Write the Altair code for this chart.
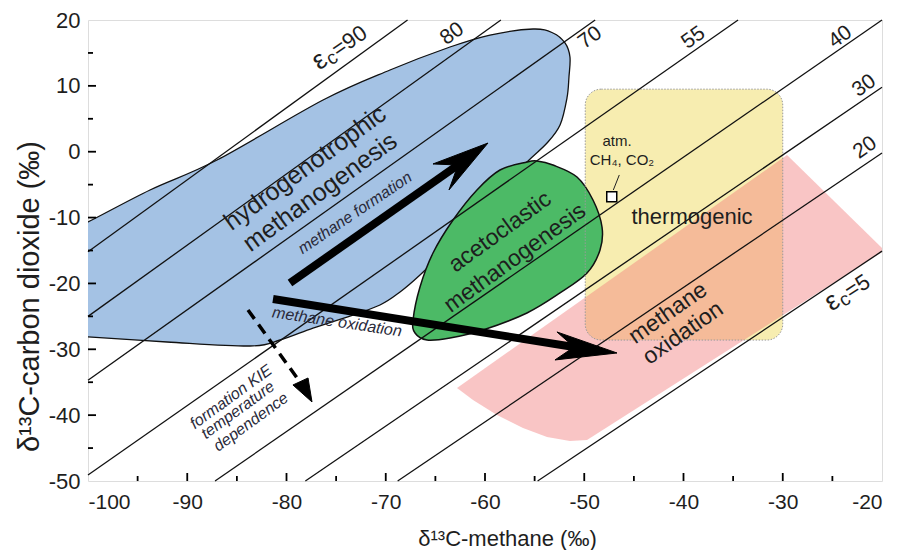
import altair as alt
import pandas as pd

FONT = "Liberation Sans"
TXT = "#1e1e1e"

# ---- iso-fractionation lines (epsilon_c), endpoints ----
eps_names = ["90", "80", "70", "55", "40", "30", "20", "5"]
line_x1 = [-100, -100, -100, -100, -87.2, -78.1, -68.8, -54.7]
line_y1 = [-15.2, -25.0, -34.7, -49.1, -50, -50, -50, -50]
line_x2 = [-67.8, -58.4, -48.9, -34.5, -20, -20, -20, -20]
line_y2 = [20, 20, 20, 20, 20.0, 9.8, -0.2, -15.1]

# plain number labels (centre positions)
num_text = ["80", "70", "55", "40", "30", "20"]
num_x = [-63.3, -49.4, -39.0, -24.2, -21.8, -21.7]
num_y = [17.9, 17.3, 17.3, 17.4, 10.0, 0.6]
num_ang = [324, 324, 324, 324, 324, 325]

# "εc=" labels (start of baseline)
epsl_val = ["=90", "=5"]
epsl_x = [-76.7, -25.1]
epsl_y = [12.3, -24.3]
epsl_ang = [325, 327]

# ---- regions ----
blue_x = [-104, -100, -93.75, -87.0, -76.32, -69.57, -63.53, -59.5, -55.16, -53.15, -51.94,
          -51.44, -51.54, -51.74, -52.44, -53.75, -55.77, -59.5, -62.52, -64.53, -66.55,
          -68.56, -70.58, -73.9, -77.33, -80.65, -83.68, -92.04, -100, -104]
blue_y = [-13.5, -10.67, -5.81, -1.26, 7.85, 12.41, 15.9, 17.72, 18.63, 18.03, 16.51,
          14.38, 11.35, 8.16, 4.06, 1.32, -1.56, -7.33, -11.89, -15.68, -18.72,
          -21.3, -23.27, -25.1, -26.77, -28.59, -29.5, -28.89, -28.13, -27.8]

green_x = [-55.77, -58.49, -60.81, -63.22, -65.24, -66.55, -67.25, -67.05, -65.84, -63.53,
           -60.2, -55.77, -52.44, -49.72, -48.41, -48.21, -49.12, -50.73, -53.15, -54.76]
green_y = [-1.56, -2.78, -5.81, -10.37, -15.38, -20.54, -25.55, -27.53, -28.59, -28.28,
           -27.07, -24.49, -21.45, -18.42, -14.92, -11.43, -7.33, -3.84, -2.02, -1.41]

pink_x = [-62.82, -61.21, -58.79, -56.17, -53.75, -51.44, -49.72, -20.0, -20.0, -29.57]
pink_y = [-35.88, -37.70, -39.98, -41.95, -43.32, -43.92, -43.77, -15.23, -14.62, -0.50]

thermo_x = [-49.9, -30.0]
thermo_y = [9.5, -28.6]

# ---- arrows ----
arrow_x1 = [-79.65, -81.36]
arrow_y1 = [-19.93, -22.36]
arrow_x2 = [-62.72, -51.03]
arrow_y2 = [-2.02, -29.65]
head1_x = [-59.70, -65.24, -62.72, -63.63]
head1_y = [1.32, -1.86, -2.02, -5.81]
head2_x = [-46.70, -52.75, -51.03, -52.95]
head2_y = [-30.56, -27.37, -29.65, -31.62]
dash_x = [-83.88, -78.64]
dash_y = [-24.03, -34.97]
head3_x = [-77.43, -77.83, -79.35]
head3_y = [-38.0, -34.36, -35.42]

# ---- atmospheric point ----
atm_x = [-47.23]
atm_y = [-6.83]
conn_x = [-47.07, -46.47]
conn_y = [-5.81, -3.53]

# ---- labels ----
big_text = ["hydrogenotrophic", "methanogenesis", "acetoclastic", "methanogenesis",
            "thermogenic", "methane", "oxidation"]
big_x = [-78.14, -76.62, -58.49, -56.98, -39.14, -41.56, -40.05]
big_y = [-2.47, -6.12, -12.19, -16.14, -9.91, -24.49, -27.53]
big_ang = [324, 324, 324, 324, 0, 325, 325]
big_size = [25, 25, 23, 23, 22, 23, 23]

it_text = ["methane formation", "methane oxidation", "formation KIE", "temperature", "dependence"]
it_x = [-73.1, -74.91, -85.59, -84.89, -83.58]
it_y = [-9.3, -25.85, -37.24, -39.22, -41.04]
it_ang = [326, 8.5, 324, 324, 324]

small_text = ["atm.", "CH₄, CO₂"]
small_x = [-46.7, -46.2]
small_y = [1.63, -1.26]

x_ticks = [-100, -90, -80, -70, -60, -50, -40, -30, -20]
x_minor = [-95, -85, -75, -65, -55, -45, -35, -25]
y_ticks = [-50, -40, -30, -20, -10, 0, 10, 20]
y_minor = [-45, -35, -25, -15, -5, 5, 15]

W, H = 794, 461

xs = alt.Scale(domain=[-100, -20], nice=False, zero=False)
ys = alt.Scale(domain=[-50, 20], nice=False, zero=False)
xax = alt.Axis(values=x_ticks, tickSize=0, domain=False, grid=False, labelFontSize=21,
               labelFont=FONT, labelColor=TXT, labelPadding=10, labelExpr="'' + datum.value",
               title="δ¹³C-methane (‰)", titleFont=FONT, titleFontSize=22,
               titleFontWeight="normal", titleColor=TXT, titleX=419, titleY=57,
               titleBaseline="middle", titleAlign="center")
yax = alt.Axis(values=y_ticks, tickSize=0, domain=False, grid=False, labelFontSize=22,
               labelFont=FONT, labelColor=TXT, labelPadding=8, labelExpr="'' + datum.value",
               title="δ¹³C-carbon dioxide (‰)", titleFont=FONT, titleFontSize=29,
               titleFontWeight="normal", titleColor=TXT, titleX=-59, titleY=276,
               titleBaseline="middle", titleAlign="center", titleAngle=270)


def X(f):
    return alt.X(f, type="quantitative", scale=xs, axis=xax)


def Y(f):
    return alt.Y(f, type="quantitative", scale=ys, axis=yax)


def poly(px, py, **mk):
    df = pd.DataFrame({"x": px, "y": py, "i": list(range(len(px)))})
    return alt.Chart(df).mark_line(clip=True, **mk).encode(x=X("x"), y=Y("y"), order="i:Q")


thermo_df = pd.DataFrame({"x": [thermo_x[0]], "x2": [thermo_x[1]], "y": [thermo_y[0]], "y2": [thermo_y[1]]})
thermo_fill = alt.Chart(thermo_df).mark_rect(fill="#f7edb0", cornerRadius=16).encode(
    x=X("x"), x2="x2", y=Y("y"), y2="y2")
thermo_border = alt.Chart(thermo_df).mark_rect(fillOpacity=0, stroke="#9a9a9a", strokeWidth=1,
                                               strokeDash=[1.5, 1.5], cornerRadius=16).encode(
    x=X("x"), x2="x2", y=Y("y"), y2="y2")

blue = poly(blue_x, blue_y, fill="#a4c2e4", stroke="#111", strokeWidth=1.3, interpolate="cardinal-closed")
green = poly(green_x, green_y, fill="#4cba66", stroke="#111", strokeWidth=1.5, interpolate="cardinal-closed")
pink = poly(pink_x, pink_y, fill="#f27e7e", fillOpacity=0.45, strokeWidth=0,
            interpolate="linear-closed")

lines_df = pd.DataFrame({"eps": eps_names, "x1": line_x1, "y1": line_y1, "x2": line_x2, "y2": line_y2})
iso = alt.Chart(lines_df).mark_rule(color="#111", strokeWidth=1.3).encode(
    x=X("x1"), y=Y("y1"), x2="x2", y2="y2")

arr_df = pd.DataFrame({"x1": arrow_x1, "y1": arrow_y1, "x2": arrow_x2, "y2": arrow_y2})
shafts = alt.Chart(arr_df).mark_rule(color="black", strokeWidth=8).encode(
    x=X("x1"), y=Y("y1"), x2="x2", y2="y2")
head1 = poly(head1_x, head1_y, fill="black", stroke="black", strokeWidth=1, interpolate="linear-closed")
head2 = poly(head2_x, head2_y, fill="black", stroke="black", strokeWidth=1, interpolate="linear-closed")
dash_df = pd.DataFrame({"x1": [dash_x[0]], "y1": [dash_y[0]], "x2": [dash_x[1]], "y2": [dash_y[1]]})
dash = alt.Chart(dash_df).mark_rule(color="black", strokeWidth=3.5, strokeDash=[11, 7]).encode(
    x=X("x1"), y=Y("y1"), x2="x2", y2="y2")
head3 = poly(head3_x, head3_y, fill="black", stroke="black", strokeWidth=1, interpolate="linear-closed")

atm_pt = alt.Chart(pd.DataFrame({"x": atm_x, "y": atm_y})).mark_point(
    shape="square", size=100, filled=True, fill="white", stroke="black", strokeWidth=1.5, opacity=1
).encode(x=X("x"), y=Y("y"))
conn_df = pd.DataFrame({"x1": [conn_x[0]], "y1": [conn_y[0]], "x2": [conn_x[1]], "y2": [conn_y[1]]})
conn = alt.Chart(conn_df).mark_rule(color="#222", strokeWidth=1).encode(
    x=X("x1"), y=Y("y1"), x2="x2", y2="y2")

num_df = pd.DataFrame({"t": num_text, "x": num_x, "y": num_y, "a": num_ang})
num_lab = alt.Chart(num_df).mark_text(font=FONT, fontSize=21, color=TXT, align="center",
                                      baseline="middle").encode(
    x=X("x"), y=Y("y"), text="t:N", angle=alt.Angle("a:Q", scale=None))

epsl_df = pd.DataFrame({"v": epsl_val, "e": ["ε", "ε"], "c": ["c", "c"],
                        "x": epsl_x, "y": epsl_y, "a": epsl_ang})
eps_e = alt.Chart(epsl_df).mark_text(font=FONT, fontSize=27, color=TXT, align="left",
                                     baseline="alphabetic").encode(
    x=X("x"), y=Y("y"), text="e:N", angle=alt.Angle("a:Q", scale=None))
eps_c = alt.Chart(epsl_df).mark_text(font=FONT, fontSize=19, color=TXT, align="left",
                                     baseline="alphabetic", dx=13, dy=3).encode(
    x=X("x"), y=Y("y"), text="c:N", angle=alt.Angle("a:Q", scale=None))
eps_v = alt.Chart(epsl_df).mark_text(font=FONT, fontSize=22, color=TXT, align="left",
                                     baseline="alphabetic", dx=23).encode(
    x=X("x"), y=Y("y"), text="v:N", angle=alt.Angle("a:Q", scale=None))

big_df = pd.DataFrame({"t": big_text, "x": big_x, "y": big_y, "a": big_ang, "s": big_size})
big_lab = alt.Chart(big_df).mark_text(font=FONT, color=TXT, align="center", baseline="middle").encode(
    x=X("x"), y=Y("y"), text="t:N", angle=alt.Angle("a:Q", scale=None), size=alt.Size("s:Q", scale=None))

it_df = pd.DataFrame({"t": it_text, "x": it_x, "y": it_y, "a": it_ang})
it_lab = alt.Chart(it_df).mark_text(font=FONT, fontSize=16, fontStyle="italic", color="#2a2a3a",
                                    align="center", baseline="middle").encode(
    x=X("x"), y=Y("y"), text="t:N", angle=alt.Angle("a:Q", scale=None))

small_df = pd.DataFrame({"t": small_text, "x": small_x, "y": small_y})
small_lab = alt.Chart(small_df).mark_text(font=FONT, fontSize=15, color=TXT, align="center",
                                          baseline="middle").encode(x=X("x"), y=Y("y"), text="t:N")

# inward tick marks (anchored on the frame at the axis minimum)
xt_df = pd.DataFrame({"t": x_ticks[1:-1], "b": [-50] * (len(x_ticks) - 2)})
xm_df = pd.DataFrame({"t": x_minor, "b": [-50] * len(x_minor)})
yt_df = pd.DataFrame({"t": y_ticks[1:-1], "b": [-100] * (len(y_ticks) - 2)})
ym_df = pd.DataFrame({"t": y_minor, "b": [-100] * len(y_minor)})
xt = alt.Chart(xt_df).mark_rule(color="black", strokeWidth=1.8).encode(
    x=X("t"), y=Y("b"), y2=alt.value(H - 8))
xm = alt.Chart(xm_df).mark_rule(color="black", strokeWidth=1.8).encode(
    x=X("t"), y=Y("b"), y2=alt.value(H - 5))
yt = alt.Chart(yt_df).mark_rule(color="black", strokeWidth=1.8).encode(
    y=Y("t"), x=X("b"), x2=alt.value(8))
ym = alt.Chart(ym_df).mark_rule(color="black", strokeWidth=1.8).encode(
    y=Y("t"), x=X("b"), x2=alt.value(5))

chart = alt.layer(
    thermo_fill, blue, green, pink, thermo_border, iso, shafts, head1, head2, dash, head3,
    conn, atm_pt, xt, xm, yt, ym, num_lab, eps_e, eps_c, eps_v, big_lab, it_lab, small_lab
).properties(
    width=W, height=H, autosize="none",
    padding={"left": 88, "top": 20, "right": 16, "bottom": 69}
).configure_view(stroke="black", strokeWidth=1.5).configure(background="white")

chart.save("out.html", embed_options={"renderer": "svg", "actions": False})
